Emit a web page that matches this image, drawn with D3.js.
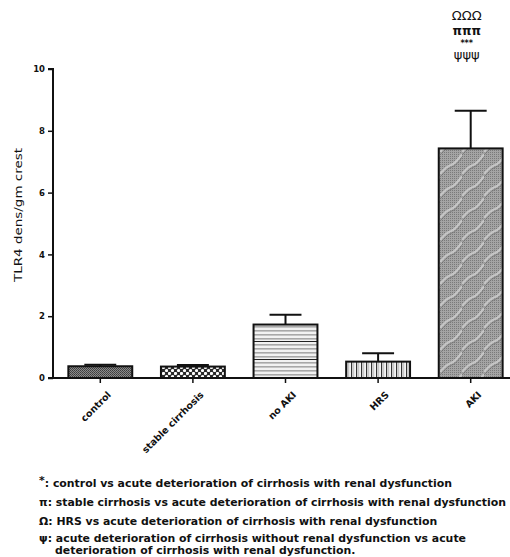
<!DOCTYPE html>
<html>
<head>
<meta charset="utf-8">
<script src="https://d3js.org/d3.v7.min.js"></script>
<style>
  body { margin: 0; background: #fff; }
  text { font-family: "DejaVu Sans", "Liberation Sans", Arial, sans-serif; }
</style>
</head>
<body>
<div id="chart"></div>
<script>
// Data
const groups = ["control", "stable cirrhosis", "no AKI", "HRS", "AKI"];
const means = [0.38, 0.37, 1.73, 0.53, 7.43];
const errors = [0.05, 0.05, 0.32, 0.27, 1.22];
const patterns = ["pControl", "pStable", "pNoAki", "pHrs", "pAki"];
const yTicks = [0, 2, 4, 6, 8, 10];
const marks = ["ΩΩΩ", "πππ", "***", "ψψψ"];
const footSymbols = ["*", "π", "Ω", "ψ", ""];
const footTexts = [
  ": control vs acute deterioration of cirrhosis with renal dysfunction",
  ": stable cirrhosis vs acute deterioration of cirrhosis with renal dysfunction",
  ": HRS vs acute deterioration of cirrhosis with renal dysfunction",
  ": acute deterioration of cirrhosis without renal dysfunction vs acute",
  "deterioration of cirrhosis with renal dysfunction."
];

const W = 510, H = 557;
const svg = d3.select("#chart").append("svg")
    .attr("width", W)
    .attr("height", H);

// Fill patterns
const defs = svg.append("defs");

let p = defs.append("pattern").attr("id", "pControl")
    .attr("patternUnits", "userSpaceOnUse").attr("width", 2).attr("height", 2);
p.append("rect").attr("width", 2).attr("height", 2).attr("fill", "#8a8a8a");
p.append("rect").attr("width", 1).attr("height", 1).attr("fill", "#3c3c3c");
p.append("rect").attr("x", 1).attr("y", 1).attr("width", 1).attr("height", 1).attr("fill", "#4a4a4a");

p = defs.append("pattern").attr("id", "pStable")
    .attr("patternUnits", "userSpaceOnUse").attr("width", 6).attr("height", 6);
p.append("rect").attr("width", 6).attr("height", 6).attr("fill", "#2a2a2a");
p.append("circle").attr("cx", 1.5).attr("cy", 1.5).attr("r", 1.6).attr("fill", "#fff");
p.append("circle").attr("cx", 4.5).attr("cy", 4.5).attr("r", 1.6).attr("fill", "#fff");

p = defs.append("pattern").attr("id", "pNoAki")
    .attr("patternUnits", "userSpaceOnUse").attr("width", 8).attr("height", 18);
p.append("rect").attr("width", 8).attr("height", 18).attr("fill", "#f2f2f2");
[2, 6, 10, 14].forEach(y => p.append("rect").attr("y", y).attr("width", 8).attr("height", 1.6).attr("fill", "#a8a8a8"));
p.append("rect").attr("y", 17).attr("width", 8).attr("height", 1.3).attr("fill", "#222");

p = defs.append("pattern").attr("id", "pHrs")
    .attr("patternUnits", "userSpaceOnUse").attr("width", 5).attr("height", 8);
p.append("rect").attr("width", 5).attr("height", 8).attr("fill", "#f4f4f4");
p.append("rect").attr("x", 1).attr("width", 1.2).attr("height", 8).attr("fill", "#333");
p.append("rect").attr("x", 3.2).attr("width", 1).attr("height", 8).attr("fill", "#bbb");

// fine grey dots with soft diagonal highlights
const dots = defs.append("pattern").attr("id", "pAkiDots")
    .attr("patternUnits", "userSpaceOnUse").attr("width", 2).attr("height", 2);
dots.append("rect").attr("width", 2).attr("height", 2).attr("fill", "#a4a4a4");
dots.append("rect").attr("width", 1).attr("height", 1).attr("fill", "#7a7a7a");
p = defs.append("pattern").attr("id", "pAki")
    .attr("patternUnits", "userSpaceOnUse").attr("width", 22).attr("height", 22);
p.append("rect").attr("width", 22).attr("height", 22).attr("fill", "url(#pAkiDots)");
p.append("path").attr("d", "M0,20 Q7,12 11,11 Q15,10 22,0")
    .attr("fill", "none").attr("stroke", "#d0d0d0").attr("stroke-width", 2.2).attr("opacity", 0.8);
p.append("path").attr("d", "M1,22 Q8,14 12,13 Q16,12 23,2")
    .attr("fill", "none").attr("stroke", "#6a6a6a").attr("stroke-width", 1).attr("opacity", 0.6);

// Scales
const x = d3.scaleBand()
    .domain(groups)
    .range([54, 517])
    .paddingInner(0.31)
    .paddingOuter(0.155);

const y = d3.scaleLinear()
    .domain([0, 10])
    .range([378, 69]);

// Bars
svg.selectAll(".bar")
    .data(groups)
    .enter().append("rect")
    .attr("class", "bar")
    .attr("x", d => x(d))
    .attr("y", (d, i) => y(means[i]))
    .attr("width", x.bandwidth())
    .attr("height", (d, i) => y(0) - y(means[i]))
    .attr("fill", (d, i) => "url(#" + patterns[i] + ")")
    .attr("stroke", "#111")
    .attr("stroke-width", 2);

// Error bars (upper only)
const capHalf = x.bandwidth() / 4;
groups.forEach((g, i) => {
    const cx = x(g) + x.bandwidth() / 2;
    svg.append("line")
        .attr("x1", cx).attr("x2", cx)
        .attr("y1", y(means[i])).attr("y2", y(means[i] + errors[i]))
        .attr("stroke", "#111").attr("stroke-width", 2);
    svg.append("line")
        .attr("x1", cx - capHalf).attr("x2", cx + capHalf)
        .attr("y1", y(means[i] + errors[i])).attr("y2", y(means[i] + errors[i]))
        .attr("stroke", "#111").attr("stroke-width", 2);
});

// Y axis
const yAxis = d3.axisLeft(y).tickValues(yTicks).tickSize(5).tickPadding(3);
const yg = svg.append("g")
    .attr("transform", "translate(53,0)")
    .call(yAxis);
yg.select(".domain").attr("stroke", "#111").attr("stroke-width", 2)
    .attr("d", "M-5," + y(10) + "H0V" + y(0));
yg.selectAll(".tick line").attr("stroke", "#111").attr("stroke-width", 1.5);
yg.selectAll(".tick text")
    .style("font-size", "8.5px").style("font-weight", "bold").attr("fill", "#111");

// X axis
const xAxis = d3.axisBottom(x).tickSize(5).tickPadding(4);
const xg = svg.append("g")
    .attr("transform", "translate(0," + y(0) + ")")
    .call(xAxis);
xg.select(".domain").attr("stroke", "#111").attr("stroke-width", 2)
    .attr("d", "M48,0H510");
xg.selectAll(".tick line").attr("stroke", "#111").attr("stroke-width", 1.5);
xg.selectAll(".tick text")
    .style("font-size", "9.5px").style("font-weight", "bold").attr("fill", "#111")
    .attr("text-anchor", "end")
    .attr("dy", "0.3em")
    .attr("transform", "translate(3,9) rotate(-45)");

// Y label
svg.append("text")
    .attr("transform", "translate(22,215) rotate(-90)")
    .attr("text-anchor", "middle")
    .style("font-size", "11px")
    .attr("textLength", 134)
    .attr("lengthAdjust", "spacingAndGlyphs")
    .attr("fill", "#111")
    .text("TLR4 dens/gm crest");

// Significance marks above AKI
const akiX = x("AKI") + x.bandwidth() / 2 - 4;
const markY = [20, 35, 46, 59];
const markSize = [13, 12, 8, 13];
marks.forEach((m, i) => {
    svg.append("text")
        .attr("x", akiX).attr("y", markY[i])
        .attr("text-anchor", "middle")
        .style("font-size", markSize[i] + "px")
        .style("font-weight", i === 1 || i === 2 ? "bold" : "normal")
        .attr("fill", "#111")
        .text(m);
});

// Footnotes: one font size for all lines, sized so the longest line ends at 507
const footY = [487, 506, 525, 542, 554];
const footX = [39, 39, 39, 39, 55];
const footG = svg.append("g").style("font-weight", "bold").attr("fill", "#111");
footTexts.forEach((t, i) => {
    const sym = footSymbols[i];
    const line = footG.append("text")
        .attr("class", "fline")
        .attr("x", footX[i]).attr("y", footY[i]);
    if (sym === "*") {
        line.append("tspan").attr("dy", -3).text(sym);
        line.append("tspan").attr("dy", 3).text(t);
    } else {
        line.text(sym + t);
    }
});
footG.style("font-size", "10px");
const longest = footG.selectAll(".fline").nodes()[1].getComputedTextLength();
const fs = 10 * (507 - footX[1]) / longest;
footG.style("font-size", fs + "px");
</script>
</body>
</html>
